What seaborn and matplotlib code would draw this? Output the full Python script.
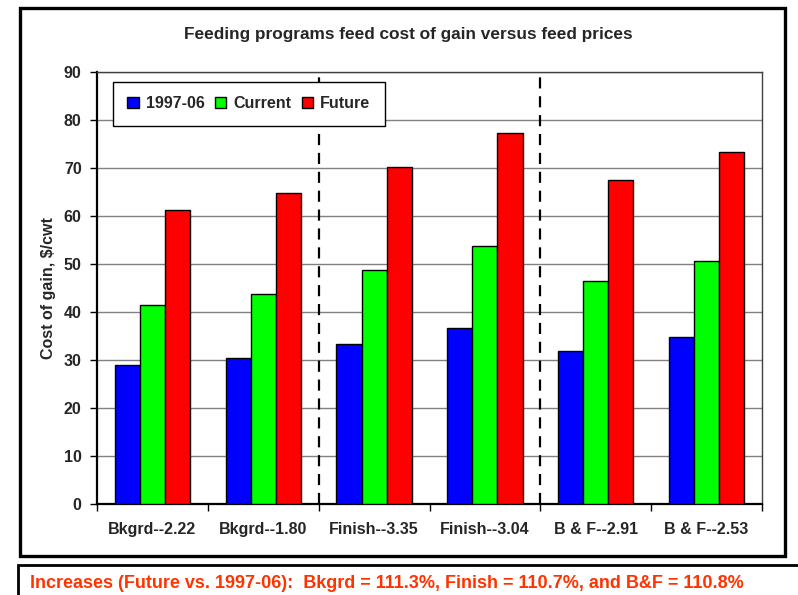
import pandas as pd
import seaborn as sns
import matplotlib.pyplot as plt
from matplotlib.patches import Rectangle

sns.set_theme(style="white")
plt.rcParams['font.family'] = ['Liberation Sans', 'DejaVu Sans']
plt.rcParams['font.weight'] = 'bold'

categories = ['Bkgrd--2.22', 'Bkgrd--1.80', 'Finish--3.35',
              'Finish--3.04', 'B & F--2.91', 'B & F--2.53']
hist_9706 = [29.0, 30.5, 33.3, 36.6, 31.9, 34.8]
current = [41.5, 43.7, 48.8, 53.8, 46.5, 50.6]
future = [61.3, 64.8, 70.3, 77.3, 67.5, 73.4]
series = ['1997-06', 'Current', 'Future']
colors = ['#0000FF', '#00FF00', '#FF0000']

df = pd.DataFrame({
    'category': categories * 3,
    'series': [s for s in series for _ in categories],
    'value': hist_9706 + current + future,
})

fig = plt.figure(figsize=(7.98, 5.95), dpi=100)
ax = fig.add_axes([97 / 798, 91 / 595, 665 / 798, 432 / 595])

sns.barplot(data=df, x='category', y='value', hue='series', palette=colors,
            width=0.68, gap=0, edgecolor='black', linewidth=1, saturation=1,
            ax=ax, zorder=3)

ax.set_ylim(0, 90)
ax.set_xlim(-0.5, 5.5)
ax.set_yticks(range(0, 91, 10))
ax.yaxis.grid(True, color='#808080', linewidth=1)
ax.set_axisbelow(True)

# dashed separators between the program groups
for xpos in (1.5, 3.5):
    ax.axvline(xpos, color='black', linestyle=(0, (5, 3.5)), linewidth=1.6, zorder=2)

for side in ('top', 'right'):
    ax.spines[side].set_color('#404040')
    ax.spines[side].set_linewidth(1)
for side in ('left', 'bottom'):
    ax.spines[side].set_color('black')
    ax.spines[side].set_linewidth(1.6)

ax.set_xticks([i - 0.5 for i in range(7)], minor=True)
ax.tick_params(axis='x', which='major', length=0, pad=13, labelsize=11.5)
ax.tick_params(axis='x', which='minor', length=5, width=1, color='black', direction='out', bottom=True)
ax.tick_params(axis='y', length=5, width=1, color='black', direction='out', left=True, pad=6, labelsize=11.5)
for lab in ax.get_xticklabels() + ax.get_yticklabels():
    lab.set_fontweight('bold')

ax.set_xlabel('')
ax.set_ylabel('Cost of gain, $/cwt', fontsize=11.5, fontweight='bold', labelpad=6)

fig.suptitle('Feeding programs feed cost of gain versus feed prices',
             x=408 / 798, y=1 - 35 / 595, va='center', fontsize=12.4, fontweight='bold')

leg = ax.legend(loc='upper left', bbox_to_anchor=(0.024, 0.977), ncol=3,
                borderaxespad=0, frameon=True, fancybox=False, edgecolor='black',
                framealpha=1, handlelength=0.7, handleheight=0.7, handletextpad=0.45,
                columnspacing=0.65, borderpad=0.9, prop={'weight': 'bold', 'size': 11.5})
leg.get_frame().set_linewidth(1)
leg.set_zorder(5)

# outer chart frame and caption box
fig.patches.append(Rectangle((20 / 798, 39 / 595), 765 / 798, 548 / 595,
                             transform=fig.transFigure, fill=False,
                             edgecolor='black', linewidth=2.4))
fig.patches.append(Rectangle((18 / 798, -0.05), 1.0, 0.05 + 30 / 595,
                             transform=fig.transFigure, fill=False,
                             edgecolor='black', linewidth=2))
fig.text(30 / 798, 12 / 595,
         'Increases (Future vs. 1997-06):  Bkgrd = 111.3%, Finish = 110.7%, and B&F = 110.8%',
         color='#FF3300', fontsize=13.0, fontweight='bold', va='center', ha='left')

fig.savefig('out.png', dpi=100)
